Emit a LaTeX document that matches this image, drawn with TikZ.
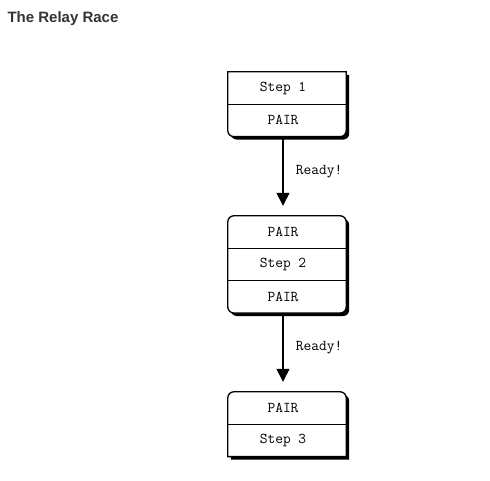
\documentclass[tikz,border=0pt]{standalone}
\usepackage{fontspec}
\newfontfamily\titlefont{Liberation Sans}
\usetikzlibrary{arrows.meta,positioning}
\definecolor{ink}{HTML}{333333}
\tikzset{
  row/.style   = {minimum width=118pt, minimum height=32pt, inner sep=0pt,
                  font=\ttfamily\fontsize{15}{15}\selectfont,
                  execute at begin node=\hspace*{-8pt}},
  frame/.style = {draw, fill=white, line width=1.3pt},
  shade/.style = {fill=black, transform canvas={shift={(3pt,-3pt)}}},
  divider/.style = {line width=0.9pt},
  link/.style  = {-{Triangle[length=13pt,width=13pt]}, line width=1.3pt},
  tag/.style   = {font=\ttfamily\fontsize{15}{15}\selectfont},
}

\begin{document}
\begin{tikzpicture}[x=1pt,y=1pt]
\useasboundingbox (0,0) rectangle (490,480);
\node[anchor=west,ink,font=\titlefont\bfseries\fontsize{15}{15}\selectfont] (title) at (4,461) {The Relay Race};
% first runner
\node[row] (s1) at (287,392) {};
\node[row,below=0pt of s1] (p1) {};
% second runner
\node[row] (a2) at (287,248) {};
\node[row,below=0pt of a2] (s2) {};
\node[row,below=0pt of s2] (b2) {};
% last runner
\node[row] (a3) at (287,72) {};
\node[row,below=0pt of a3] (s3) {};
% boxes, shadow first
\foreach \style in {shade, frame} {
  \path[\style] (s1.north west) -- (s1.north east)
    -- ([yshift=6pt]p1.south east) arc[start angle=0,end angle=-90,radius=6pt]
    -- ([xshift=6pt]p1.south west) arc[start angle=270,end angle=180,radius=6pt]
    -- cycle;
  \path[\style,rounded corners=6pt] (a2.north west) rectangle (b2.south east);
  \path[\style] (s3.south west)
    -- ([yshift=-6pt]a3.north west) arc[start angle=180,end angle=90,radius=6pt]
    -- ([xshift=-6pt]a3.north east) arc[start angle=90,end angle=0,radius=6pt]
    -- (s3.south east) -- cycle;
}
% texts on top of the white fill
\node[row] at (s1) {Step 1};
\node[row] at (p1) {PAIR};
\node[row] at (a2) {PAIR};
\node[row] at (s2) {Step 2};
\node[row] at (b2) {PAIR};
\node[row] at (a3) {PAIR};
\node[row] at (s3) {Step 3};
\draw[divider] (s1.south west) -- (s1.south east);
\draw[divider] (a2.south west) -- (a2.south east);
\draw[divider] (s2.south west) -- (s2.south east);
\draw[divider] (a3.south west) -- (a3.south east);
% hand-overs
\draw[link] ([xshift=-4pt]p1.south) -- ([xshift=-4pt,yshift=10pt]a2.north)
  node[midway,right=9pt,tag] {Ready!};
\draw[link] ([xshift=-4pt]b2.south) -- ([xshift=-4pt,yshift=10pt]a3.north)
  node[midway,right=9pt,tag] {Ready!};
\end{tikzpicture}
\end{document}
